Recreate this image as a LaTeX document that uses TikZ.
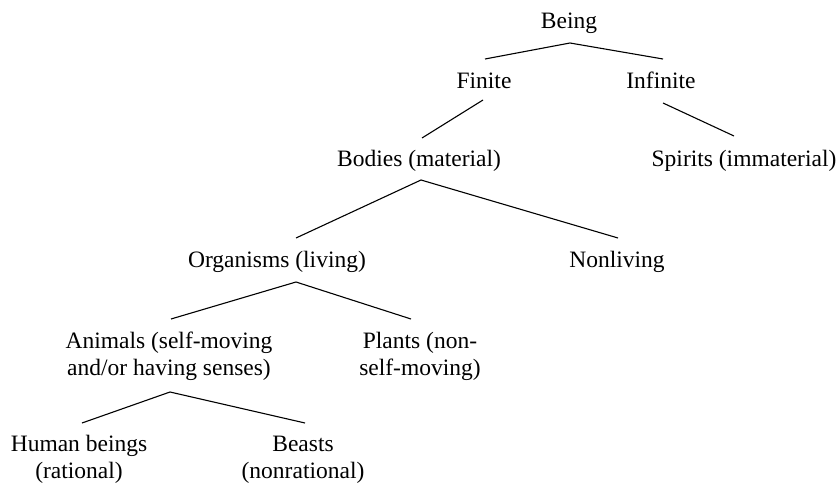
\documentclass[tikz,border=0pt]{standalone}
\usepackage{fontspec}
\setmainfont{Liberation Serif}
\begin{document}
\begin{tikzpicture}[x=1pt,y=-1pt,
  lbl/.style={inner sep=0pt, anchor=base, align=center,
    font=\fontsize{23.5}{27}\selectfont},
  conn/.style={line width=1.1pt, line join=miter}]
\useasboundingbox (0,0) rectangle (838,484);
% nodes (two-line nodes: base = baseline of last line)
\node[lbl] (being) at (569,29) {Being};
\node[lbl] (finite) at (484,89) {Finite};
\node[lbl] (infinite) at (661,89) {Infinite};
\node[lbl] (bodies) at (419,166) {Bodies (material)};
\node[lbl] (spirits) at (744,166) {Spirits (immaterial)};
\node[lbl] (organisms) at (277,267) {Organisms (living)};
\node[lbl] (nonliving) at (617,267) {Nonliving};
\node[lbl] (animals) at (169,375) {Animals (self-moving\\and/or having senses)};
\node[lbl] (plants) at (420,375) {Plants (non-\\self-moving)};
\node[lbl] (human) at (79,478) {Human beings\\(rational)};
\node[lbl] (beasts) at (303,478) {Beasts\\(nonrational)};
% connector end points
\coordinate (being-b) at (570,43);
\coordinate (finite-t) at (485,59);
\coordinate (infinite-t) at (663,59);
\coordinate (finite-b) at (483,100);
\coordinate (bodies-t) at (422,138);
\coordinate (infinite-b) at (663,103);
\coordinate (spirits-t) at (734,136);
\coordinate (bodies-b) at (421,180);
\coordinate (organisms-t) at (296,238);
\coordinate (nonliving-t) at (618,238);
\coordinate (organisms-b) at (296,282);
\coordinate (animals-t) at (171,319);
\coordinate (plants-t) at (411,319);
\coordinate (animals-b) at (170,392);
\coordinate (human-t) at (82,423);
\coordinate (beasts-t) at (305,423);
% connectors
\draw[conn] (finite-t) -- (being-b) -- (infinite-t);
\draw[conn] (finite-b) -- (bodies-t);
\draw[conn] (infinite-b) -- (spirits-t);
\draw[conn] (organisms-t) -- (bodies-b) -- (nonliving-t);
\draw[conn] (animals-t) -- (organisms-b) -- (plants-t);
\draw[conn] (human-t) -- (animals-b) -- (beasts-t);
\end{tikzpicture}
\end{document}
